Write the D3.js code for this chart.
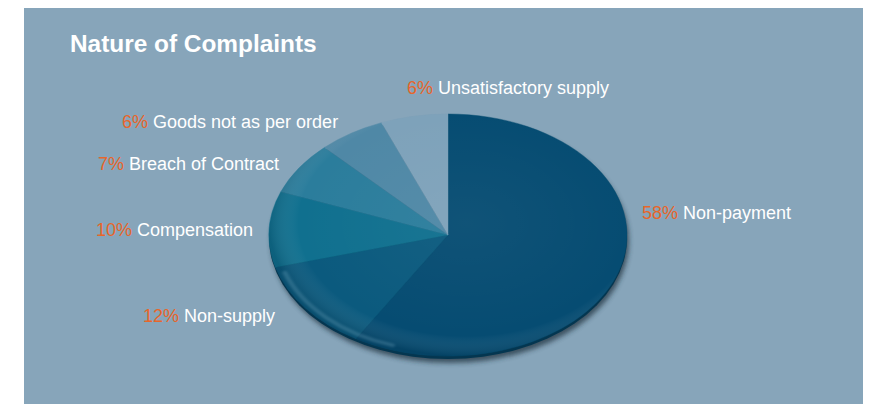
<!DOCTYPE html>
<html>
<head>
<meta charset="utf-8">
<script src="https://cdn.jsdelivr.net/npm/d3@7"></script>
<style>
  html, body { margin: 0; padding: 0; background: #ffffff; }
  svg { display: block; }
</style>
</head>
<body>
<svg id="chart" width="872" height="404"></svg>
<script>
// ---- data ----
const categories = ["Non-payment", "Non-supply", "Compensation", "Breach of Contract", "Goods not as per order", "Unsatisfactory supply"];
const values = [58, 12, 10, 7, 6, 6];
const title = "Nature of Complaints";

// ---- styles / layout (kept separate from data) ----
const sliceColors = ["#064c72", "#0b5a7e", "#10708f", "#2b7d9c", "#4f88a6", "#7ea2ba"];
const labelPos = [[642, 219], [143, 322], [96, 236], [98, 170], [122, 128], [407, 94]];

const W = 872, H = 404;
const svg = d3.select("#chart");
const defs = svg.append("defs");

// panel
svg.append("rect").attr("x", 24).attr("y", 8).attr("width", 839).attr("height", H - 8)
  .attr("fill", "#87a5ba");

svg.append("text").attr("x", 70).attr("y", 52)
  .attr("font-family", "'Liberation Sans', Arial, Helvetica, sans-serif")
  .attr("font-weight", "bold").attr("font-size", 24.4).attr("fill", "#ffffff")
  .text(title);

// pie geometry
const cx = 448, cy = 235, rx = 179, ry = 121;
const k = ry / rx;

const blur = defs.append("filter").attr("id", "blur").attr("x", "-20%").attr("y", "-20%").attr("width", "140%").attr("height", "140%");
blur.append("feGaussianBlur").attr("stdDeviation", 2.5);
const soft = defs.append("filter").attr("id", "soft").attr("x", "-20%").attr("y", "-20%").attr("width", "140%").attr("height", "140%");
soft.append("feGaussianBlur").attr("stdDeviation", 1.5);

const shine = defs.append("radialGradient").attr("id", "shine")
  .attr("cx", "55%").attr("cy", "45%").attr("r", "55%");
shine.append("stop").attr("offset", "0%").attr("stop-color", "#ffffff").attr("stop-opacity", 0.04);
shine.append("stop").attr("offset", "85%").attr("stop-color", "#ffffff").attr("stop-opacity", 0.0);
shine.append("stop").attr("offset", "100%").attr("stop-color", "#001a2a").attr("stop-opacity", 0.18);

// drop shadow / thickness
svg.append("ellipse").attr("cx", cx + 2).attr("cy", cy + 6).attr("rx", rx).attr("ry", ry + 1)
  .attr("fill", "#1d2f3a").attr("opacity", 0.7).attr("filter", "url(#blur)");
svg.append("ellipse").attr("cx", cx).attr("cy", cy + 3).attr("rx", rx).attr("ry", ry)
  .attr("fill", "#043650");

const pie = d3.pie().sort(null).value(d => d)(values);
const arc = d3.arc().innerRadius(0).outerRadius(rx);

const g = svg.append("g").attr("transform", `translate(${cx},${cy}) scale(1,${k})`);
g.selectAll("path.slice").data(pie).join("path")
  .attr("class", "slice")
  .attr("d", arc)
  .attr("fill", (d, i) => sliceColors[i])
  .attr("stroke", (d, i) => sliceColors[i]).attr("stroke-width", 0.5);

g.append("circle").attr("r", rx).attr("fill", "url(#shine)");

// soft rim highlight along lower-left edge
const rimArc = d3.arc().innerRadius(rx - 9).outerRadius(rx - 4)
  .startAngle(Math.PI * 1.1).endAngle(Math.PI * 1.4).cornerRadius(2);
g.append("path").attr("d", rimArc()).attr("fill", "#9fd0e6").attr("opacity", 0.22)
  .attr("filter", "url(#soft)");

// labels
const labels = svg.append("g")
  .attr("font-family", "'Liberation Sans', Arial, Helvetica, sans-serif")
  .attr("font-size", 18);
labels.selectAll("text").data(categories).join("text")
  .attr("x", (d, i) => labelPos[i][0]).attr("y", (d, i) => labelPos[i][1])
  .each(function (d, i) {
    const t = d3.select(this);
    t.append("tspan").attr("fill", "#e8662a").text(values[i] + "%");
    t.append("tspan").attr("fill", "#ffffff").text(" " + d);
  });
</script>
</body>
</html>
